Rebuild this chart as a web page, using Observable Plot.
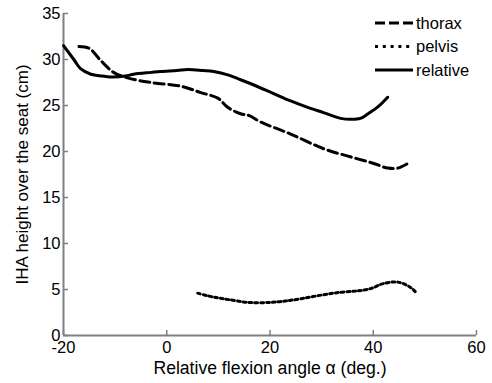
<!DOCTYPE html>
<html><head><meta charset="utf-8">
<script src="https://cdn.jsdelivr.net/npm/d3@7"></script>
<script src="https://cdn.jsdelivr.net/npm/@observablehq/plot@0.6"></script>
<style>body{margin:0;background:#fff;font-family:Arial,"Liberation Sans",sans-serif}</style>
</head><body><div id="chart"></div>
<script>
const relativeX = [-20, -18, -16.7, -14.7, -12.5, -10.9, -8, -6.4, -3, -1.2, 2, 4.1, 7, 9.1, 12, 14.3, 17, 20.7, 24, 27.3, 30.5, 33.7, 35.7, 37.5, 39, 41, 42.8];
const relativeY = [31.5, 30.0, 29.0, 28.4, 28.2, 28.1, 28.2, 28.4, 28.6, 28.7, 28.8, 28.9, 28.8, 28.7, 28.3, 27.8, 27.2, 26.3, 25.5, 24.8, 24.2, 23.6, 23.5, 23.6, 24.1, 24.9, 25.9];
const thoraxX = [-17, -15, -12.8, -10.3, -7.6, -3.1, 2.7, 6.6, 9.9, 11.8, 14.3, 16, 18.2, 24, 30.4, 35.7, 40.1, 42.8, 44.8, 46.7];
const thoraxY = [31.4, 31.2, 29.9, 28.6, 28.0, 27.5, 27.1, 26.4, 25.8, 24.8, 24.1, 23.9, 23.2, 21.9, 20.3, 19.4, 18.7, 18.2, 18.2, 18.7];
const pelvisX = [6.0, 8, 9.9, 12, 15.7, 20.2, 23, 26, 30, 33.7, 37, 39.5, 42, 44.8, 47.3, 48.4];
const pelvisY = [4.6, 4.3, 4.1, 3.9, 3.6, 3.6, 3.75, 4.0, 4.4, 4.7, 4.85, 5.1, 5.65, 5.8, 5.2, 4.6];
const xTicks = [-20, 0, 20, 40, 60];
const yTicks = [0, 5, 10, 15, 20, 25, 30, 35];
const xLabel = "Relative flexion angle α (deg.)";
const yLabel = "IHA height over the seat (cm)";
const seriesNames = ["thorax", "pelvis", "relative"];

const toRows = (xs, ys) => xs.map((x, i) => ({x, y: ys[i]}));
const thorax = toRows(thoraxX, thoraxY);
const pelvis = toRows(pelvisX, pelvisY);
const relative = toRows(relativeX, relativeY);
const axisColor = "#808080";
const dashes = {thorax: "10,4.5", pelvis: "2.8,3", relative: null};
const legendDashes = {thorax: "10,4", pelvis: "3,4.8", relative: null};
const lw = 3;
const fmt = d => String(d);

const chart = Plot.plot({
  width: 492, height: 383,
  marginLeft: 63, marginRight: 16, marginTop: 13, marginBottom: 48,
  style: {fontFamily: "Arial, 'Liberation Sans', sans-serif", fontSize: "17px", color: "#000", background: "#fff"},
  x: {domain: [-20, 60]},
  y: {domain: [0, 35]},
  marks: [
    Plot.axisX({ticks: xTicks, tickSize: 0, tickPadding: 6, tickFormat: fmt, label: null, fontSize: 16.5, fill: "#000"}),
    Plot.axisX({ticks: xTicks, tickSize: -5, tickFormat: () => "", label: null, stroke: axisColor, strokeWidth: 1.5}),
    Plot.axisY({ticks: yTicks, tickSize: 0, tickPadding: 3, tickFormat: fmt, label: null, fontSize: 16.5, fill: "#000"}),
    Plot.axisY({ticks: yTicks, tickSize: -5, tickFormat: () => "", label: null, stroke: axisColor, strokeWidth: 1.5}),
    Plot.ruleY([0], {stroke: axisColor, strokeWidth: 2}),
    Plot.ruleX([-20], {stroke: axisColor, strokeWidth: 2}),
    Plot.line(thorax, {x: "x", y: "y", stroke: "#000", strokeWidth: lw, strokeDasharray: dashes.thorax, curve: "catmull-rom"}),
    Plot.line(pelvis, {x: "x", y: "y", stroke: "#000", strokeWidth: lw, strokeDasharray: dashes.pelvis, curve: "catmull-rom"}),
    Plot.line(relative, {x: "x", y: "y", stroke: "#000", strokeWidth: lw, curve: "catmull-rom"}),
    Plot.text([xLabel], {frameAnchor: "bottom", dy: 38, textAnchor: "middle", fontSize: 17.6, fill: "#000"}),
    Plot.text([yLabel], {frameAnchor: "left", dx: -41, rotate: -90, textAnchor: "middle", fontSize: 17, fill: "#000"})
  ]
});

// legend
const svg = d3.select(chart);
const lg = svg.append("g");
seriesNames.forEach((name, i) => {
  const yy = 23 + i * 23.5;
  const ln = lg.append("line").attr("x1", 375).attr("x2", 413).attr("y1", yy).attr("y2", yy)
    .attr("stroke", "#000").attr("stroke-width", lw);
  if (legendDashes[name]) ln.attr("stroke-dasharray", legendDashes[name]);
  lg.append("text").attr("x", 416).attr("y", yy).attr("dy", "0.35em").attr("text-anchor", "start")
    .attr("font-size", 16.5).attr("fill", "#000").text(name);
});
document.getElementById("chart").appendChild(chart);
</script></body></html>
